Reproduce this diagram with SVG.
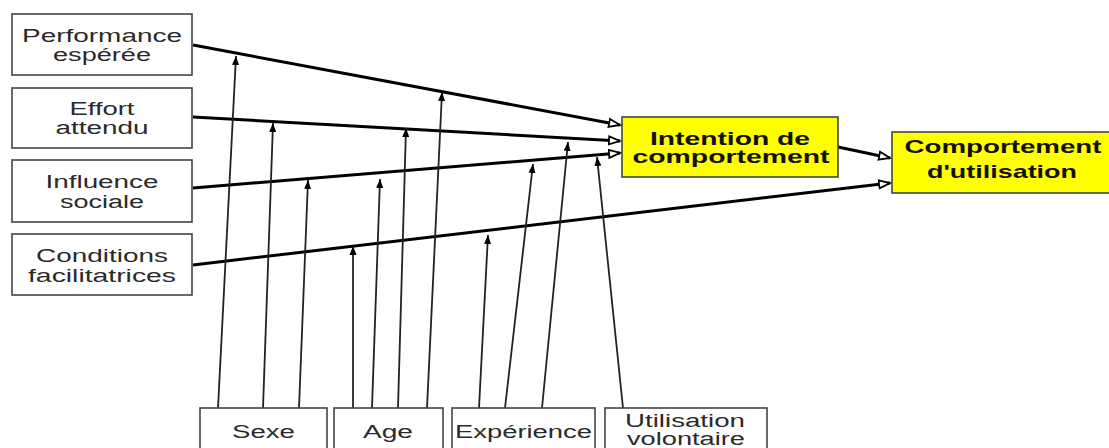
<svg xmlns="http://www.w3.org/2000/svg" width="1109" height="448" viewBox="0 0 1109 448">
<defs>
<marker id="big" markerUnits="userSpaceOnUse" markerWidth="14" markerHeight="12" refX="12" refY="5" orient="auto" viewBox="0 0 14 10">
<path d="M1,1 L12,5 L1,9 Z" fill="#fff" stroke="#000" stroke-width="1.8"/>
</marker>
<marker id="small" markerUnits="userSpaceOnUse" markerWidth="10" markerHeight="8" refX="9" refY="4" orient="auto" viewBox="0 0 10 8">
<path d="M0,0.5 L9,4 L0,7.5 Z" fill="#000"/>
</marker>
<style>
.box{fill:#fff;stroke:#444;stroke-width:1.6}
.ybox{fill:#ffff00;stroke:#444;stroke-width:1.6}
.t{font-family:"Liberation Sans",Arial,sans-serif;font-size:18px;fill:#2a2a2a;text-anchor:middle}
.b{font-family:"Liberation Sans",Arial,sans-serif;font-size:18px;font-weight:bold;fill:#111;text-anchor:middle}
.b2{font-family:"Liberation Sans",Arial,sans-serif;font-size:19px;font-weight:bold;fill:#111;text-anchor:middle}
.main{stroke:#000;stroke-width:3;fill:none;marker-end:url(#big)}
.mod{stroke:#222;stroke-width:1.8;fill:none;marker-end:url(#small)}
</style>
</defs>
<rect width="1109" height="448" fill="#fff"/>
<g id="connectors">
<line class="main" x1="193" y1="45" x2="620" y2="125"/>
<line class="main" x1="193" y1="117" x2="620" y2="141"/>
<line class="main" x1="193" y1="188" x2="620" y2="153"/>
<line class="main" x1="193" y1="265" x2="890" y2="183"/>
<line class="main" x1="838" y1="147" x2="890" y2="158"/>
<line class="mod" x1="218" y1="408" x2="236" y2="56"/>
<line class="mod" x1="263" y1="408" x2="273" y2="123"/>
<line class="mod" x1="299" y1="408" x2="308" y2="180"/>
<line class="mod" x1="353" y1="408" x2="353" y2="246"/>
<line class="mod" x1="372" y1="408" x2="380" y2="179"/>
<line class="mod" x1="398" y1="408" x2="406" y2="128"/>
<line class="mod" x1="427" y1="408" x2="442" y2="92"/>
<line class="mod" x1="479" y1="408" x2="488" y2="235"/>
<line class="mod" x1="505" y1="408" x2="533" y2="164"/>
<line class="mod" x1="542" y1="408" x2="568" y2="142"/>
<line class="mod" x1="623" y1="408" x2="597" y2="157"/>
</g>
<g id="performance">
<rect class="box" x="12" y="14" width="180" height="61"/>
<text class="t" x="102" y="42" textLength="160" lengthAdjust="spacingAndGlyphs">Performance</text>
<text class="t" x="102" y="61" textLength="98" lengthAdjust="spacingAndGlyphs">espérée</text>
</g>
<g id="effort">
<rect class="box" x="12" y="88" width="180" height="60"/>
<text class="t" x="102" y="115" textLength="65" lengthAdjust="spacingAndGlyphs">Effort</text>
<text class="t" x="102" y="134" textLength="93" lengthAdjust="spacingAndGlyphs">attendu</text>
</g>
<g id="influence">
<rect class="box" x="12" y="160" width="180" height="62"/>
<text class="t" x="102" y="188" textLength="113" lengthAdjust="spacingAndGlyphs">Influence</text>
<text class="t" x="102" y="208" textLength="84" lengthAdjust="spacingAndGlyphs">sociale</text>
</g>
<g id="conditions">
<rect class="box" x="12" y="234" width="180" height="61"/>
<text class="t" x="102" y="262" textLength="132" lengthAdjust="spacingAndGlyphs">Conditions</text>
<text class="t" x="102" y="282" textLength="148" lengthAdjust="spacingAndGlyphs">facilitatrices</text>
</g>
<g id="intention">
<rect class="ybox" x="622" y="117" width="216" height="60"/>
<text class="b" x="730" y="145" textLength="160" lengthAdjust="spacingAndGlyphs">Intention de</text>
<text class="b" x="731" y="163" textLength="197" lengthAdjust="spacingAndGlyphs">comportement</text>
</g>
<g id="comportement">
<rect class="ybox" x="892" y="132" width="230" height="61"/>
<text class="b2" x="1003" y="153" textLength="197" lengthAdjust="spacingAndGlyphs">Comportement</text>
<text class="b2" x="1002" y="178" textLength="150" lengthAdjust="spacingAndGlyphs">d'utilisation</text>
</g>
<g id="sexe">
<rect class="box" x="200" y="408" width="127" height="50"/>
<text class="t" x="263.5" y="438" textLength="63" lengthAdjust="spacingAndGlyphs">Sexe</text>
</g>
<g id="age">
<rect class="box" x="334" y="408" width="109" height="50"/>
<text class="t" x="388" y="438" textLength="50" lengthAdjust="spacingAndGlyphs">Age</text>
</g>
<g id="experience">
<rect class="box" x="452" y="408" width="143" height="50"/>
<text class="t" x="523.5" y="438" textLength="137" lengthAdjust="spacingAndGlyphs">Expérience</text>
</g>
<g id="utilisation">
<rect class="box" x="605" y="408" width="162" height="50"/>
<text class="t" x="685" y="427" textLength="120" lengthAdjust="spacingAndGlyphs">Utilisation</text>
<text class="t" x="686" y="445" textLength="118" lengthAdjust="spacingAndGlyphs">volontaire</text>
</g>
</svg>
